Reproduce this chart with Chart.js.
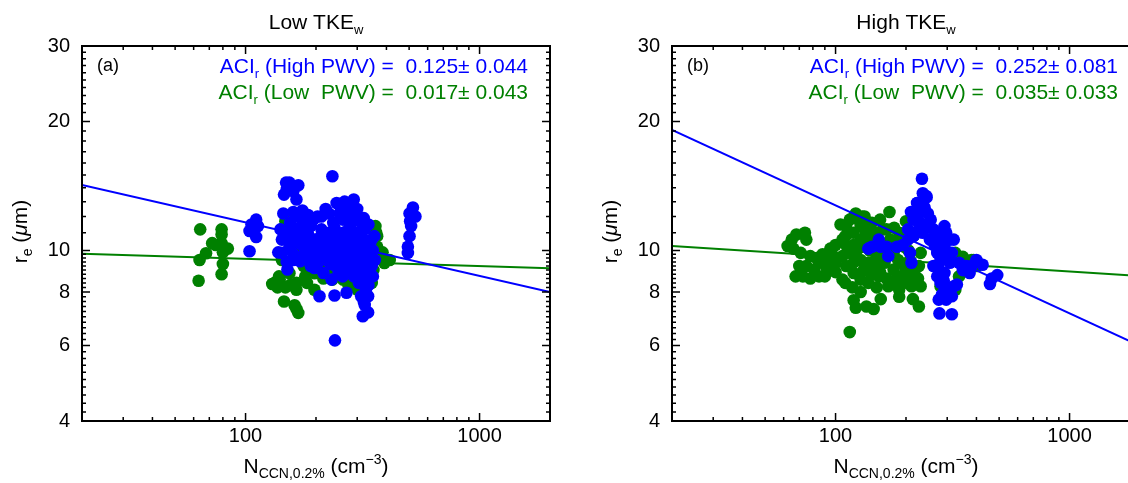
<!DOCTYPE html>
<html>
<head>
<meta charset="utf-8">
<title>ACI_r vs N_CCN</title>
<script src="https://cdn.jsdelivr.net/npm/chart.js@4/dist/chart.umd.min.js"></script>
<style>
  html, body { margin: 0; padding: 0; background: #fff; overflow: hidden; }
  #wrap { position: relative; width: 1128px; height: 483px; overflow: hidden; }
  canvas { position: absolute; top: 0; }
  #chartLow { left: 0; }
  #chartHigh { left: 590px; }
</style>
</head>
<body>
<div id="wrap">
  <canvas id="chartLow" width="560" height="483"></canvas>
  <canvas id="chartHigh" width="560" height="483"></canvas>
</div>
<script>
// axes
const xRange = [20, 2000];
const yRange = [4, 30];
const xTicks = [100, 1000];
const yTicks = [4, 6, 8, 10, 20, 30];

// r_e (um) against N_CCN,0.2% (cm-3), low TKE_w, high PWV
const lowTkeHighPwv = [
  [104, 9.96], [104, 11.1], [106, 11.5], [111, 11.8], [111, 10.75], [113, 11.4],
  [149, 14.4], [154, 14.4], [146, 13.5], [165, 13.15], [168, 14.2], [160, 13.75], [159, 14.0], [150, 13.9],
  [235, 14.9], [241, 6.17], [207, 7.82], [240, 7.85], [270, 7.97],
  [317, 7.02], [334, 7.17], [323, 7.46], [312, 7.82], [334, 7.82], [327, 8.1], [320, 7.6],
  [494, 9.87], [494, 10.2], [502, 10.8], [510, 11.4], [502, 12.2], [519, 12.6], [532, 12.0], [505, 11.7],
  [141, 11.2], [138, 9.9], [149, 11.0], [165, 12.0], [180, 11.7], [151, 9.03], [171, 9.44], [190, 9.2],
  [211, 12.0], [227, 12.2], [261, 12.6], [290, 13.15], [284, 12.8], [301, 12.0], [312, 11.6], [323, 11.2],
  [346, 10.6], [341, 9.87], [346, 9.2], [341, 8.8], [317, 8.55], [290, 8.7], [266, 9.03], [250, 8.86],
  [233, 8.55], [215, 8.86], [197, 9.1], [183, 9.7], [197, 10.6], [227, 11.0], [252, 10.4], [290, 10.6],
  [301, 9.7], [270, 9.7], [237, 9.7], [203, 9.87], [177, 10.2], [154, 10.2], [143, 10.6], [159, 11.2],
  [177, 11.0], [190, 11.4], [211, 11.2], [237, 11.6], [261, 11.8], [280, 11.4], [301, 11.0], [317, 10.2],
  [261, 11.0], [243, 10.6], [215, 10.2], [190, 10.2], [165, 10.6], [159, 9.87], [143, 9.87], [261, 10.2],
  [284, 9.36], [312, 9.36], [323, 9.03], [261, 9.36], [243, 9.2], [222, 9.5], [183, 10.6], [203, 12.0],
  [252, 12.2], [280, 12.2], [275, 12.4], [220, 12.5], [230, 10.3], [310, 10.0], [330, 10.5], [160, 10.9],
  [210, 10.8], [250, 9.9], [280, 10.0], [300, 8.9], [330, 9.6], [350, 10.0], [150, 9.4], [170, 10.4],
  [195, 11.8], [240, 11.3], [272, 11.1], [292, 10.3], [225, 9.9], [205, 9.4], [185, 9.9],
  [160, 12.3], [175, 12.4], [185, 12.1], [245, 12.9], [265, 13.0], [300, 12.5], [320, 11.9], [335, 11.5],
  [355, 10.8], [357, 9.5], [350, 8.7], [335, 8.3], [305, 8.4], [280, 8.9], [260, 8.7], [245, 9.5],
  [230, 9.3], [215, 9.7], [200, 10.2], [185, 10.9], [170, 11.3], [155, 11.6], [145, 12.2], [150, 10.6],
  [160, 9.5], [175, 9.7], [195, 9.5], [210, 10.4], [225, 10.8], [240, 10.1], [255, 10.8], [270, 10.5],
  [285, 11.7], [300, 10.3], [320, 10.6], [325, 9.8], [340, 10.3]
];

// low TKE_w, low PWV
const lowTkeLowPwv = [
  [64, 11.2], [63.6, 9.5], [63, 8.5], [67.8, 9.85], [74.6, 10.3], [72, 10.4], [79, 11.2], [79, 10.9],
  [79, 10.4], [80, 9.9], [80, 9.3], [79, 8.8], [84, 10.1],
  [148, 11.7], [146, 11.3], [143, 9.5], [133, 8.4], [137, 8.2], [148, 8.2], [140, 8.55], [165, 8.4],
  [165, 8.1], [155, 8.3], [183, 8.4], [146, 7.6], [162, 7.45], [168, 7.15], [165, 7.3], [197, 8.85],
  [219, 9.35], [243, 9.2], [261, 8.55], [290, 8.25], [301, 8.1], [346, 8.4], [352, 9.0], [365, 10.2],
  [359, 11.4], [365, 10.8], [362, 11.0], [392, 9.35], [413, 9.5], [385, 9.9], [256, 8.85], [235, 8.55],
  [197, 8.1], [190, 9.9], [250, 9.5], [276, 8.25], [301, 8.85], [177, 9.2], [154, 8.85], [139, 8.7],
  [130, 8.35], [330, 8.6], [320, 9.0], [280, 9.1], [210, 9.5], [170, 9.8], [160, 10.3], [155, 11.0],
  [200, 10.5], [230, 10.0], [270, 9.8], [300, 9.5], [340, 10.0], [370, 9.6], [345, 11.3], [180, 8.7],
  [215, 8.6], [240, 8.9]
];

// high TKE_w, high PWV
const highTkeHighPwv = [
  [138, 10.1], [143, 10.2], [153, 10.6], [156, 10.2], [165, 10.2], [168, 9.7], [183, 10.2], [194, 10.3],
  [204, 10.6], [208, 9.87], [211, 9.36], [204, 11.2], [215, 11.8], [227, 12.2], [223, 12.9], [236, 13.6],
  [234, 14.7], [244, 13.4], [248, 12.2], [244, 11.4], [236, 11.0], [220, 11.0], [253, 10.6], [272, 11.0],
  [292, 11.4], [297, 11.0], [308, 10.6], [314, 9.87], [292, 10.2], [272, 9.87], [262, 9.2], [272, 8.7],
  [281, 8.4], [292, 8.86], [308, 9.36], [276, 7.68], [278, 7.13], [297, 7.68], [314, 7.82], [320, 8.25],
  [330, 8.33], [314, 7.1], [337, 9.36], [362, 9.2], [374, 8.86], [381, 9.2], [425, 9.26], [457, 8.35],
  [465, 8.6], [491, 8.76], [281, 9.5], [281, 10.6], [262, 11.2], [320, 10.6], [230, 11.6], [240, 12.6],
  [228, 11.3], [215, 10.8], [285, 10.0], [300, 9.6], [275, 9.2], [290, 8.5], [300, 8.2], [285, 7.9],
  [265, 10.3], [255, 11.8], [210, 12.3], [350, 9.0], [400, 9.5], [224, 12.9], [245, 13.3]
];

// high TKE_w, low PWV
const highTkeLowPwv = [
  [62.4, 10.24], [65, 10.6], [66, 10.1], [67.5, 8.7], [74, 11.0], [75, 10.6], [78, 9.7], [71, 9.87],
  [75, 9.2], [78, 8.6], [72.5, 8.7], [85, 8.7], [85, 9.36], [81, 9.03], [95, 10.1], [93, 9.5],
  [91.5, 9.1], [100, 9.36], [107, 8.55], [107, 9.7],
  [115, 11.8], [122, 12.2], [111, 11.4], [119.5, 11.0], [128, 11.4], [143, 11.6], [148, 11.0], [159, 11.2],
  [171, 10.6], [170, 12.3], [124, 10.05], [115, 9.87], [111, 9.2], [119.5, 8.86], [128, 8.55], [138, 8.4],
  [153, 8.7], [168, 8.25], [187, 8.1], [187, 7.8], [204, 8.4], [211, 8.25], [231, 8.25], [214, 7.7],
  [227, 7.4], [208, 9.5], [227, 9.2], [204, 8.86], [231, 9.87], [200, 11.7], [187, 11.0], [156, 7.7],
  [119.5, 7.65], [122, 7.35], [135.5, 7.4], [145.5, 7.3], [115, 6.45], [128, 9.5], [138, 9.36], [148, 9.03],
  [162, 9.36], [177, 9.03], [190, 8.7], [138, 10.6], [159, 10.2], [148, 9.5], [107, 10.6], [128, 10.6],
  [119, 10.3], [177, 9.87], [197, 10.2], [120, 12.0], [130, 12.0], [135, 11.0], [150, 10.5], [165, 9.7],
  [185, 9.5], [200, 9.0], [120, 9.4], [100, 8.9], [215, 10.8], [205, 10.0],
  [325, 9.87], [348, 9.5], [362, 9.36], [381, 9.5], [395, 9.36], [402, 9.2], [337, 8.7], [325, 8.1],
  [281, 8.25], [272, 9.2], [350, 9.66], [389, 9.5],
  [105, 11.5], [110, 10.8], [112, 10.2], [125, 11.8], [133, 12.0], [140, 11.4], [155, 11.8], [165, 11.2],
  [178, 11.3], [190, 10.5], [180, 10.2], [170, 10.0], [160, 9.8], [150, 9.9], [140, 10.0], [130, 10.2],
  [122, 9.6], [132, 9.0], [142, 8.8], [155, 8.9], [165, 8.6], [178, 8.5], [195, 9.3], [210, 9.0],
  [220, 8.7], [100, 10.3], [98, 9.7], [88, 9.8], [90, 8.7], [83, 9.6], [70, 9.2], [68, 10.9],
  [110, 8.4], [118, 8.2], [128, 8.0], [150, 8.2], [195, 8.4], [225, 8.6]
];

// fitted ACI_r (slope of -ln r_e vs ln N) and its error, [high PWV, low PWV]
const aciLowTke = [0.125, 0.017];
const aciErrLowTke = [0.044, 0.043];
const aciHighTke = [0.252, 0.035];
const aciErrHighTke = [0.081, 0.033];
// fit value of r_e at N = 200 cm-3, [high PWV, low PWV]
const fitAt200LowTke = [10.66, 9.45];
const fitAt200HighTke = [10.7, 9.45];

const BLUE = '#0000ff';
const GREEN = '#008000';
const FONT = '"Liberation Sans", Arial, Helvetica, sans-serif';

function fitLine(aci, r200) {
  return xRange.map(x => ({ x: x, y: r200 * Math.pow(x / 200, -aci) }));
}

// draws a row of text pieces: [text, size, dy, italic]
function richText(ctx, parts, x, y, align) {
  let w = 0;
  parts.forEach(p => {
    ctx.font = (p[3] ? 'italic ' : '') + p[1] + 'px ' + FONT;
    w += ctx.measureText(p[0]).width;
  });
  let cx = align === 'center' ? x - w / 2 : align === 'right' ? x - w : x;
  ctx.textAlign = 'left';
  ctx.textBaseline = 'alphabetic';
  parts.forEach(p => {
    ctx.font = (p[3] ? 'italic ' : '') + p[1] + 'px ' + FONT;
    ctx.fillText(p[0], cx, y + p[2]);
    cx += ctx.measureText(p[0]).width;
  });
}

function aciLabel(aci, err) {
  return '=  ' + aci.toFixed(3) + '\u00b1 ' + err.toFixed(3);
}

// box, inward ticks, titles and the ACI annotations
const framePlugin = {
  id: 'frame',
  afterDraw(chart, args, opts) {
    const ctx = chart.ctx;
    const a = chart.chartArea;
    const xs = chart.scales.x, ys = chart.scales.y;
    const right = a.left + 468;
    ctx.save();
    ctx.strokeStyle = '#000';
    ctx.lineWidth = 2;
    ctx.strokeRect(a.left, a.top, right - a.left, a.bottom - a.top);

    ctx.lineWidth = 1.5;
    ctx.beginPath();
    for (let d = 10; d <= 1000; d *= 10) {
      for (let m = 1; m <= 9; m++) {
        const v = d * m;
        if (v < xRange[0] || v > xRange[1]) continue;
        const px = xs.getPixelForValue(v);
        const len = m === 1 ? 8 : 4;
        ctx.moveTo(px, a.bottom); ctx.lineTo(px, a.bottom - len);
        ctx.moveTo(px, a.top); ctx.lineTo(px, a.top + len);
      }
    }
    const yMinor = [];
    for (let v = 4.2; v < 9.99; v += 0.2) yMinor.push(v);
    for (let v = 11; v < 30; v++) if (v !== 20) yMinor.push(v);
    yMinor.forEach(v => {
      const py = ys.getPixelForValue(v);
      ctx.moveTo(a.left, py); ctx.lineTo(a.left + 4, py);
      ctx.moveTo(right, py); ctx.lineTo(right - 4, py);
    });
    yTicks.forEach(v => {
      const py = ys.getPixelForValue(v);
      ctx.moveTo(a.left, py); ctx.lineTo(a.left + 8, py);
      ctx.moveTo(right, py); ctx.lineTo(right - 8, py);
    });
    ctx.stroke();

    const mid = (a.left + right) / 2;
    ctx.fillStyle = '#000';
    richText(ctx, [[opts.title, 21, 0], ['w', 13, 5]], mid, 29, 'center');
    richText(ctx, [[opts.panel, 18, 0]], a.left + 15, 71, 'left');
    richText(ctx, [['N', 21, 0], ['CCN,0.2%', 14, 5], [' (cm', 21, 0], ['\u22123', 14, -9], [')', 21, 0]],
      mid, 473, 'center');

    ctx.save();
    ctx.translate(27, (a.top + a.bottom) / 2 - 2);
    ctx.rotate(-Math.PI / 2);
    richText(ctx, [['r', 21, 0], ['e', 14, 5], [' (', 21, 0], ['\u03bc', 21, 0, true], ['m)', 21, 0]], 0, 0, 'center');
    ctx.restore();

    ctx.fillStyle = BLUE;
    richText(ctx, [['ACI', 21, 0], ['r', 13, 5], [' (High PWV) ' + aciLabel(opts.aci[0], opts.err[0]), 21, 0]],
      a.left + 446, 73, 'right');
    ctx.fillStyle = GREEN;
    richText(ctx, [['ACI', 21, 0], ['r', 13, 5], [' (Low  PWV) ' + aciLabel(opts.aci[1], opts.err[1]), 21, 0]],
      a.left + 446, 99, 'right');
    ctx.restore();
  }
};

function makeChart(id, title, panel, highPts, lowPts, aci, err, r200) {
  const toXY = pts => pts.map(p => ({ x: p[0], y: p[1] }));
  return new Chart(document.getElementById(id), {
    type: 'scatter',
    data: {
      datasets: [
        { data: toXY(highPts), backgroundColor: BLUE, borderColor: BLUE, pointRadius: 6.3, pointBorderWidth: 0, order: 0 },
        { type: 'line', data: fitLine(aci[0], r200[0]), borderColor: BLUE, borderWidth: 2, pointRadius: 0, fill: false, order: 1 },
        { data: toXY(lowPts), backgroundColor: GREEN, borderColor: GREEN, pointRadius: 6.3, pointBorderWidth: 0, order: 2 },
        { type: 'line', data: fitLine(aci[1], r200[1]), borderColor: GREEN, borderWidth: 2, pointRadius: 0, fill: false, order: 3 }
      ]
    },
    options: {
      responsive: false,
      animation: false,
      events: [],
      layout: { padding: { top: 46, right: 10, left: 0, bottom: 0 } },
      plugins: {
        legend: { display: false },
        tooltip: { enabled: false },
        frame: { title: title, panel: panel, aci: aci, err: err }
      },
      scales: {
        x: {
          type: 'logarithmic',
          min: xRange[0],
          max: xRange[1],
          afterBuildTicks: s => { s.ticks = xTicks.map(v => ({ value: v })); },
          afterFit: s => { s.height = 62; },
          ticks: {
            callback: v => String(v),
            color: '#000',
            font: { family: FONT, size: 20 },
            padding: 3,
            maxRotation: 0,
            autoSkip: false
          },
          grid: { display: false, drawTicks: false },
          border: { display: false }
        },
        y: {
          type: 'logarithmic',
          min: yRange[0],
          max: yRange[1],
          afterBuildTicks: s => { s.ticks = yTicks.map(v => ({ value: v })); },
          afterFit: s => { s.width = 82; },
          ticks: {
            callback: v => String(v),
            color: '#000',
            font: { family: FONT, size: 20 },
            padding: 12,
            autoSkip: false
          },
          grid: { display: false, drawTicks: false },
          border: { display: false }
        }
      }
    },
    plugins: [framePlugin]
  });
}

makeChart('chartLow', 'Low TKE', '(a)', lowTkeHighPwv, lowTkeLowPwv, aciLowTke, aciErrLowTke, fitAt200LowTke);
makeChart('chartHigh', 'High TKE', '(b)', highTkeHighPwv, highTkeLowPwv, aciHighTke, aciErrHighTke, fitAt200HighTke);
</script>
</body>
</html>
